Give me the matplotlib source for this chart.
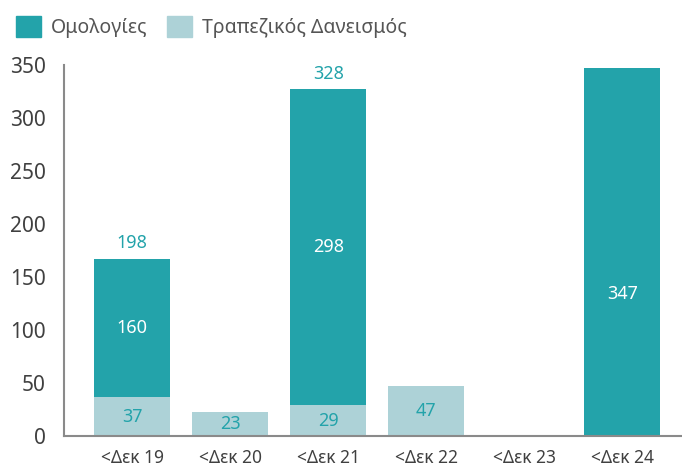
import numpy as np
import matplotlib.pyplot as plt
from matplotlib.patches import Patch

plt.rcParams['font.family'] = ['Noto Sans', 'DejaVu Sans']

# δεδομένα
categories = ["<Δεκ 19", "<Δεκ 20", "<Δεκ 21", "<Δεκ 22", "<Δεκ 23", "<Δεκ 24"]
loans = [37, 23, 29, 47, 0, 0]          # Τραπεζικός Δανεισμός (ύψος ράβδου)
bonds = [130, 0, 298, 0, 0, 347]        # Ομολογίες (ύψος ράβδου όπως φαίνεται)
loan_labels = ["37", "23", "29", "47", "", ""]
bond_labels = ["160", "", "298", "", "", "347"]
total_labels = ["198", "", "328", "", "", ""]
yticks = [0, 50, 100, 150, 200, 250, 300, 350]

teal = "#23A3AA"
light = "#ADD2D7"
grey = "#404040"

fig = plt.figure(figsize=(6.82, 4.68), dpi=100)
ax = fig.add_axes([0.094, 0.068, 0.906, 0.793])

x = np.arange(len(categories))
w = 0.776
ax.bar(x, loans, w, color=light)
ax.bar(x, bonds, w, bottom=loans, color=teal)

for i in range(len(categories)):
    if loan_labels[i]:
        ax.text(x[i], loans[i] / 2, loan_labels[i], ha="center", va="center",
                color=teal, fontsize=13)
    if bond_labels[i]:
        yc = loans[i] + bonds[i] / 2
        if i == 5:
            yc = 134
        ax.text(x[i], yc, bond_labels[i], ha="center", va="center",
                color="white", fontsize=13)
    if total_labels[i]:
        ax.text(x[i], loans[i] + bonds[i] + 15, total_labels[i], ha="center",
                va="center", color=teal, fontsize=13)

ax.set_xlim(-0.694, 5.61)
ax.set_ylim(0, 350)
ax.set_xticks(x)
ax.set_xticklabels(categories, fontsize=12.5, color=grey)
ax.set_yticks(yticks)
ax.set_yticklabels([str(v) for v in yticks], fontsize=15, color=grey)
ax.tick_params(length=0)
ax.tick_params(axis="x", pad=9)
ax.tick_params(axis="y", pad=13)

for s in ["top", "right"]:
    ax.spines[s].set_visible(False)
for s in ["left", "bottom"]:
    ax.spines[s].set_color("#8a8a8a")
    ax.spines[s].set_linewidth(1.5)

handles = [Patch(color=teal), Patch(color=light)]
fig.legend(handles, ["Ομολογίες", "Τραπεζικός Δανεισμός"], loc="upper left",
           bbox_to_anchor=(0.0, 1.0), ncol=2, frameon=False, fontsize=14,
           handlelength=1.3, handleheight=1.3, handletextpad=0.5,
           columnspacing=1.0, labelcolor="#555555", borderaxespad=0.4)

fig.savefig("out.png", dpi=100)
